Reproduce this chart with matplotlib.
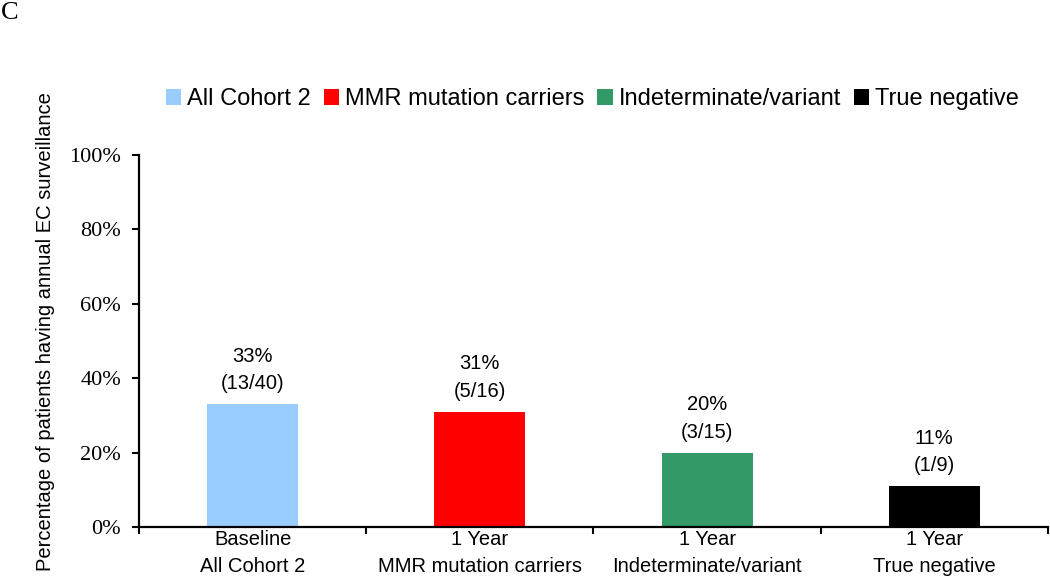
import matplotlib
matplotlib.use("Agg")
import matplotlib.pyplot as plt
from matplotlib.patches import Patch
from matplotlib.ticker import FixedLocator, PercentFormatter

# Data
groups = ['All Cohort 2', 'MMR mutation carriers', 'Indeterminate/variant', 'True negative']
timepoints = ['Baseline', '1 Year', '1 Year', '1 Year']
percent = [33, 31, 20, 11]
counts = ['13/40', '5/16', '3/15', '1/9']
colors = ['#99CCFF', '#FF0000', '#339966', '#000000']
ylabel = 'Percentage of patients having annual EC surveillance'

SANS = 'Liberation Sans'
SERIF = 'Liberation Serif'

fig = plt.figure(figsize=(10.5, 5.78), dpi=100)
ax = fig.add_axes([0.1324, 0.0882, 0.8656, 0.6436])

x = list(range(len(groups)))
ax.bar(x, percent, width=0.4, color=colors, zorder=2)

# value labels above bars
for xi, p, c in zip(x, percent, counts):
    ax.annotate(f'{p}%\n({c})', (xi, p), xytext=(0, 8), textcoords='offset points',
                ha='center', va='bottom', fontsize=14.5, family=SANS, linespacing=1.55)

ax.set_xlim(-0.5, 3.5)
ax.set_ylim(0, 100)
ax.set_yticks([0, 20, 40, 60, 80, 100])
ax.yaxis.set_major_formatter(PercentFormatter(decimals=0))
for lbl in ax.get_yticklabels():
    lbl.set_family(SERIF)
    lbl.set_fontsize(16)

ax.set_xticks(x)
ax.set_xticklabels([f'{t}\n{g}' for t, g in zip(timepoints, groups)],
                   fontsize=14.5, family=SANS, linespacing=1.55)
ax.xaxis.set_minor_locator(FixedLocator([-0.5, 0.5, 1.5, 2.5, 3.5]))
ax.tick_params(axis='x', which='major', length=0, pad=2)
ax.tick_params(axis='x', which='minor', length=5, width=1.5, direction='out')
ax.tick_params(axis='y', length=5, width=1.5, direction='out', pad=8)

for side in ['top', 'right']:
    ax.spines[side].set_visible(False)
for side in ['left', 'bottom']:
    ax.spines[side].set_linewidth(1.6)

# long label: shift it up a little so it stays inside the figure
ax.set_ylabel(ylabel, fontsize=14.5, family=SANS)
ax.yaxis.set_label_coords(-0.092, 0.525)

handles = [Patch(facecolor=c, edgecolor='none') for c in colors]
fig.legend(handles, groups, loc='center', bbox_to_anchor=(0.5643, 0.828), ncol=4,
           frameon=False, prop={'family': SANS, 'size': 17},
           handlelength=0.65, handleheight=0.65, handletextpad=0.25, columnspacing=0.55,
           borderpad=0, borderaxespad=0)

fig.text(0.001, 0.997, 'C', family=SERIF, fontsize=19, ha='left', va='top')

fig.savefig('out.png', dpi=100)
